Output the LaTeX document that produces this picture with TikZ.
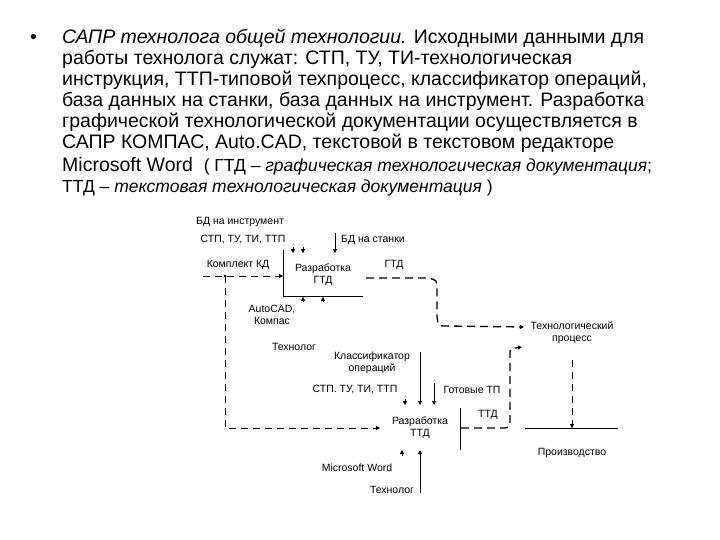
\documentclass[tikz,border=0pt]{standalone}
\usepackage{fontspec}
\setmainfont{Liberation Sans}
\usetikzlibrary{arrows.meta}
\begin{document}
\begin{tikzpicture}[x=1pt,y=-1pt,
  hd/.style={anchor=base west,inner sep=0pt,font=\fontsize{19.5}{22}\selectfont},
  lb/.style={inner sep=0pt,font=\fontsize{10.5}{12}\selectfont,align=center},
  ln/.style={line width=0.7pt},
  dsh/.style={line width=0.8pt,dash pattern=on 7pt off 5pt},
  dshb/.style={line width=1.3pt,dash pattern=on 8pt off 5pt},
  arr/.style={-{Triangle[length=4pt,width=4pt]}}]
\useasboundingbox (0,0) rectangle (720,540);
\node[hd] (b) at (30,44) {•};
\node[hd] (l1) at (62,44) {\textit{САПР технолога общей технологии.} Исходными данными для};
\node[hd] (l2) at (62,65) {работы технолога служат: СТП, ТУ, ТИ-технологическая};
\node[hd] (l3) at (62,86) {инструкция, ТТП-типовой техпроцесс, классификатор операций,};
\node[hd] (l4) at (62,107) {база данных на станки, база данных на инструмент. Разработка};
\node[hd] (l5) at (62,128) {графической технологической документации осуществляется в};
\node[hd] (l6) at (62,149) {САПР КОМПАС, Auto.CAD, текстовой в текстовом редакторе};
\node[hd] (l7) at (62,172) {Microsoft Word \ {\fontsize{17.5}{19}\selectfont ( ГТД – \textit{графическая технологическая документация};}};
\node[hd] (l8) at (62,193) {\fontsize{17.5}{19}\selectfont ТТД – \textit{текстовая технологическая документация} )};
% top block
\coordinate (a1) at (283,250); \coordinate (a2) at (283,296); \coordinate (a3) at (363,296);
\draw[ln] (a1) -- (a2) -- (a3);
\node[lb] (g) at (323,275) {Разработка\\ГТД};
\node[lb] (bdi) at (240,222) {БД на инструмент};
\node[lb] (stp1) at (243,240) {СТП, ТУ, ТИ, ТТП};
\node[lb] (bds) at (373,240) {БД на станки};
\node[lb] (kd) at (238,265) {Комплект КД};
\node[lb] (gtd) at (394,265) {ГТД};
\node[lb] (ac) at (272,315) {AutoCAD,\\Компас};
\node[lb] (t1) at (294,347) {Технолог};
\coordinate (s1) at (335,233); \coordinate (s1e) at (335,253);
\draw[ln,arr] (s1) -- (s1e);
\coordinate (d1a) at (293,247); \coordinate (d1b) at (293,253);
\coordinate (d2a) at (303,247); \coordinate (d2b) at (303,253);
\draw[arr] (d1a)--(d1b); \draw[arr] (d2a)--(d2b);
\coordinate (u1a) at (303,302); \coordinate (u1b) at (303,297);
\coordinate (u2a) at (323,302); \coordinate (u2b) at (323,297);
\draw[arr] (u1a)--(u1b); \draw[arr] (u2a)--(u2b);
\coordinate (k0) at (203,276); \coordinate (k1) at (283,276); \coordinate (dot) at (225,276);
\draw[dsh,arr] (k0) -- (k1);
\fill (dot) circle (1.5pt);
\coordinate (kc) at (225,428); \coordinate (ke) at (380,428);
\draw[dsh,arr] (dot) -- (kc) -- (ke);
% process
\node[lb] (tp) at (572,333) {Технологический\\процесс};
\coordinate (g0) at (366,278); \coordinate (g1) at (428,278);
\coordinate (g2) at (437,290); \coordinate (g3) at (437,316); \coordinate (g4) at (447,326);
\coordinate (g5) at (524,327);
\draw[dshb,arr] (g0) -- (g1) .. controls (437,280) .. (g2) -- (g3) .. controls (438,326) .. (g4) -- (g5);
% lower block
\node[lb] (tt) at (420,428) {Разработка\\ТТД};
\coordinate (v1) at (460,408); \coordinate (v2) at (460,450);
\draw[ln] (v1) -- (v2);
\node[lb] (kl) at (372,363) {Классификатор\\операций};
\node[lb] (stp2) at (355,390) {СТП. ТУ, ТИ, ТТП};
\node[lb] (gt) at (472,390) {Готовые ТП};
\node[lb] (ttd) at (488,415) {ТТД};
\node[lb] (mw) at (357,468) {Microsoft Word};
\node[lb] (t2) at (392,490) {Технолог};
\node[lb] (pr) at (572,453) {Производство};
\coordinate (c1) at (420,352); \coordinate (c1e) at (420,405);
\draw[ln,arr] (c1) -- (c1e);
\coordinate (c2) at (434,383); \coordinate (c2e) at (434,405);
\draw[ln,arr] (c2) -- (c2e);
\coordinate (c3) at (405,399); \coordinate (c3e) at (405,405);
\draw[arr] (c3) -- (c3e);
\coordinate (w1) at (402,456); \coordinate (w1e) at (402,450);
\draw[arr] (w1) -- (w1e);
\coordinate (w2) at (420,493); \coordinate (w2e) at (420,450);
\draw[ln,arr] (w2) -- (w2e);
\coordinate (t0) at (461,428); \coordinate (t1c) at (500,428);
\coordinate (t2c) at (510,418); \coordinate (t3c) at (510,356); \coordinate (t4c) at (516,348);
\coordinate (t5c) at (522,347);
\draw[dshb,arr] (t0) -- (t1c) .. controls (510,428) .. (t2c) -- (t3c) .. controls (510,348) .. (t4c) -- (t5c);
\coordinate (p0) at (572,360); \coordinate (p1) at (572,428);
\draw[dsh,arr] (p0) -- (p1);
\coordinate (h0) at (525,428); \coordinate (h1) at (618,428);
\draw[ln] (h0) -- (h1);
\end{tikzpicture}
\end{document}
